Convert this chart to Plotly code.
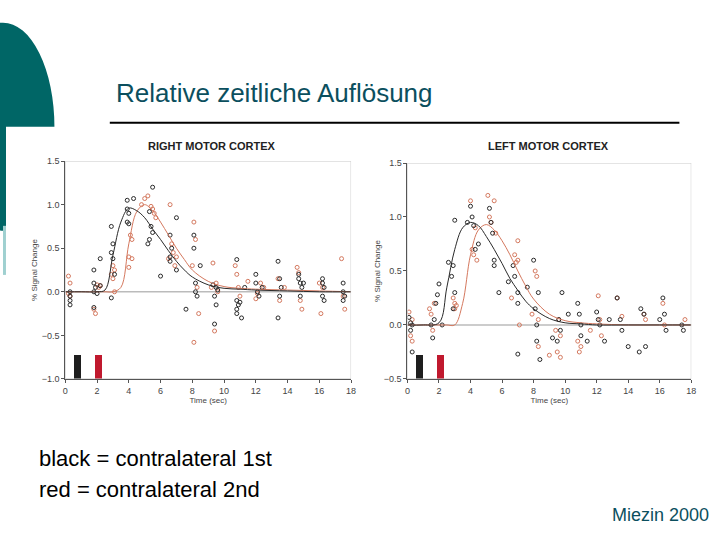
import plotly.graph_objects as go

W, H = 720, 540

# fitted curves
curve_t = [0, 1, 2, 2.5, 3, 3.5, 4, 4.5, 5, 5.5, 6, 6.5, 7, 7.5, 8, 9, 10, 11, 12, 14, 16, 18]
right_black_fit = [0, 0, 0, 0.02, 0.42, 0.8, 0.96, 0.93, 0.85, 0.72, 0.6, 0.47, 0.35, 0.25, 0.17, 0.08, 0.04, 0.03, 0.02, 0.01, 0, 0]
right_red_fit = [0, 0, 0, 0, 0, 0.05, 0.55, 0.92, 1.0, 0.93, 0.8, 0.65, 0.5, 0.37, 0.25, 0.12, 0.06, 0.04, 0.03, 0.02, 0.01, 0]
left_black_fit = [0, 0, 0.02, 0.35, 0.7, 0.9, 0.95, 0.92, 0.82, 0.7, 0.57, 0.43, 0.32, 0.22, 0.15, 0.06, 0.02, 0.01, 0, 0, 0, 0]
left_red_fit = [0, 0, 0, 0, 0, 0.2, 0.65, 0.88, 0.93, 0.88, 0.78, 0.65, 0.5, 0.36, 0.24, 0.1, 0.04, 0.02, 0.01, 0, 0, 0]

# scatter samples (time, % signal change)
rb_t = [0.3, 0.3, 0.3, 0.3, 1.8, 1.8, 1.8, 1.8, 1.9, 2.0, 2.2, 2.2, 2.9, 2.9, 3.0, 3.0, 2.9, 3.1,
        3.9, 3.9, 3.9, 4.0, 4.0, 4.3, 5.2, 5.3, 5.3, 5.4, 5.5, 5.5, 6.0, 6.6, 6.6, 6.7, 6.6, 7.0, 7.0, 7.6,
        8.1, 8.1, 8.2, 8.2, 8.3, 8.5, 9.4, 9.4, 9.5, 9.5, 9.3, 9.6, 10.8, 10.8, 10.8, 10.9, 10.8, 11.0, 11.1, 11.3,
        12.0, 12.0, 12.1, 12.2, 12.4, 13.4, 13.5, 13.4, 13.5, 13.6, 14.7, 14.7, 14.8, 14.9, 14.8, 15.0,
        16.2, 16.3, 16.2, 16.3, 16.2, 17.5, 17.5, 17.6, 17.5]
rb_v = [-0.15, -0.1, 0.0, -0.05, 0.25, 0.1, -0.18, 0.0, 0.05, -0.02, 0.38, 0.07, 0.75, 0.45, 0.55, 0.38, -0.07, 0.2,
        1.05, 0.95, 0.8, 0.9, 0.78, 1.07, 0.55, 0.92, 0.6, 0.75, 0.68, 1.2, 0.18, 0.65, 0.4, 0.5, 0.35, 0.85, 0.25, -0.2,
        0.5, 0.65, 0.1, 0.0, -0.05, 0.3, -0.37, -0.05, 0.05, -0.15, 0.08, 0.02, 0.37, -0.1, -0.2, -0.15, -0.25, -0.12, -0.3, 0.05,
        0.2, 0.1, 0.0, -0.05, 0.05, 0.35, 0.15, -0.3, -0.05, 0.05, 0.2, 0.15, 0.1, 0.05, -0.05, 0.1,
        0.15, 0.05, -0.05, -0.1, 0.1, 0.1, 0.0, -0.05, -0.1]
rr_t = [0.2, 0.2, 0.3, 0.3, 1.8, 1.9, 2.0, 2.1, 2.2, 3.0, 3.0, 3.1, 3.1, 2.9, 4.0, 4.0, 4.1, 4.2, 4.2,
        4.8, 5.0, 5.2, 5.4, 5.5, 5.6, 5.7, 6.6, 6.7, 6.8, 6.9, 6.5, 7.0, 8.1, 8.2, 8.0, 8.3, 8.4, 8.1,
        9.3, 9.4, 9.5, 9.6, 9.2, 10.7, 10.8, 10.9, 11.0, 11.5, 12.0, 12.3, 12.5, 12.1, 13.4, 13.5, 13.8,
        14.6, 14.7, 14.8, 14.9, 16.0, 16.1, 16.2, 17.4, 17.5, 17.6]
rr_v = [0.18, -0.02, 0.1, -0.05, -0.2, -0.25, 0.08, 0.05, 0.07, 0.3, 0.15, 0.25, 0.0, 0.2, 0.4, 0.28, 0.65, 0.6, 0.38,
        1.0, 1.07, 1.1, 0.98, 0.95, 0.9, 0.85, 1.0, 0.55, 0.45, 0.3, 0.38, 0.4, 0.8, 0.6, 0.3, 0.05, -0.25, -0.58,
        0.33, -0.45, 0.1, 0.0, 0.05, 0.3, 0.2, 0.05, -0.05, 0.12, -0.08, 0.1, 0.05, -0.02, 0.15, -0.1, 0.05,
        0.28, 0.22, -0.1, -0.2, 0.1, -0.25, 0.05, 0.38, -0.05, -0.2]
lb_t = [0.1, 0.2, 0.2, 0.3, 0.3, 1.5, 1.6, 1.7, 1.8, 1.9, 2.0, 2.2, 2.6, 2.8, 2.9, 3.0, 3.0, 2.9,
        3.8, 4.0, 4.1, 4.2, 4.3, 4.5, 5.2, 5.3, 5.4, 5.5, 5.5, 5.8, 6.4, 6.7, 6.8, 7.0, 7.0, 7.0, 7.6,
        8.0, 8.1, 8.2, 8.2, 8.3, 8.4, 9.2, 9.6, 9.7, 9.5, 9.8, 10.2, 10.8, 10.9, 11.0, 11.0, 11.4,
        12.0, 12.1, 12.2, 12.5, 12.8, 13.3, 13.5, 13.6, 14.0, 14.7, 14.8, 15.0, 15.1, 16.0, 16.2, 16.3, 16.4, 17.4, 17.5]
lb_v = [0.07, -0.05, 0.02, -0.25, 0.0, 0.0, -0.12, 0.05, 0.2, 0.28, 0.38, 0.0, 0.58, 0.45, 0.55, 0.97, 0.3, 0.15,
        0.95, 1.1, 1.0, 0.92, 0.7, 0.75, 1.08, 0.95, 0.85, 0.6, 0.55, 0.3, 0.4, 0.55, 0.45, 0.3, 0.2, -0.27, 0.35,
        0.6, 0.15, 0.0, -0.15, 0.3, -0.32, -0.12, 0.05, -0.05, -0.15, 0.3, 0.1, 0.2, 0.1, 0.0, -0.1, -0.15,
        0.12, 0.05, 0.0, -0.15, 0.05, 0.25, 0.05, -0.05, -0.2, -0.25, 0.15, 0.1, -0.2, 0.05, 0.25, 0.1, -0.05, 0.0, -0.05]
lr_t = [0.1, 0.2, 0.3, 0.3, 1.4, 1.5, 1.6, 1.7, 2.9, 3.0, 3.0, 3.1, 4.0, 4.1, 4.2, 4.3, 4.4, 5.1, 5.2, 5.3, 5.5,
        5.6, 6.6, 6.8, 6.9, 7.0, 7.0, 7.1, 7.9, 8.1, 8.2, 8.3, 8.3, 9.0, 9.4, 9.5, 9.6, 9.7, 9.7,
        10.8, 10.9, 11.0, 11.6, 12.1, 12.2, 12.3, 13.3, 13.6, 15.0, 15.1, 16.2, 16.3, 17.6]
lr_v = [0.12, -0.1, -0.15, 0.05, 0.15, 0.1, -0.05, 0.2, 0.25, 0.2, 0.15, 0.18, 1.15, 0.7, 0.65, 0.9, 0.6, 1.2, 1.0, 0.95, 1.15,
        0.85, 0.25, 0.65, 0.58, 0.78, 0.6, 0.0, 0.1, 0.5, 0.45, -0.2, 0.05, -0.28, -0.05, -0.25, 0.05, -0.3, -0.1,
        -0.15, -0.25, -0.2, -0.05, 0.27, 0.05, -0.1, 0.25, 0.08, 0.1, 0.05, 0.2, 0.0, 0.05]

# stimulus markers
stim_x = [0.8, 2.1]
stim_color = ["#1e1e1e", "#c0192e"]
right_stim_base, right_stim_top = -1.0, -0.73
left_stim_base, left_stim_top = -0.5, -0.28

BLACK = "#2a2a2a"
RED = "#d4785e"
TEAL = "#006666"

fig = go.Figure()


def panel(xa, ya, bt, bv, rt, rv, bfit, rfit, sbase, stop):
    xr, yr = "x" if xa == 1 else "x%d" % xa, "y" if ya == 1 else "y%d" % ya
    fig.add_trace(go.Bar(x=stim_x, y=[stop - sbase] * 2, base=sbase, width=0.45,
                         marker=dict(color=stim_color, line=dict(width=0)), xaxis=xr, yaxis=yr))
    fig.add_trace(go.Scatter(x=[0, 18], y=[0, 0], mode="lines", line=dict(color="#bbbbbb", width=1.5),
                             xaxis=xr, yaxis=yr))
    fig.add_trace(go.Scatter(x=rt, y=rv, mode="markers", xaxis=xr, yaxis=yr,
                             marker=dict(symbol="circle-open", size=4, color=RED, line=dict(width=1))))
    fig.add_trace(go.Scatter(x=bt, y=bv, mode="markers", xaxis=xr, yaxis=yr,
                             marker=dict(symbol="circle-open", size=4, color=BLACK, line=dict(width=1))))
    fig.add_trace(go.Scatter(x=curve_t, y=rfit, mode="lines", line=dict(color=RED, width=1, shape="spline"),
                             xaxis=xr, yaxis=yr))
    fig.add_trace(go.Scatter(x=curve_t, y=bfit, mode="lines", line=dict(color=BLACK, width=1, shape="spline"),
                             xaxis=xr, yaxis=yr))


panel(1, 1, rb_t, rb_v, rr_t, rr_v, right_black_fit, right_red_fit, right_stim_base, right_stim_top)
panel(2, 2, lb_t, lb_v, lr_t, lr_v, left_black_fit, left_red_fit, left_stim_base, left_stim_top)

ax = dict(showgrid=False, zeroline=False, showline=True, linecolor="#555", linewidth=1, mirror=False,
          ticks="outside", ticklen=3, tickcolor="#555", tickfont=dict(size=9, color="#444", family="Liberation Sans"))
tf = dict(size=8, color="#444", family="Liberation Sans")
fig.update_layout(
    width=W, height=H, margin=dict(l=0, r=0, t=0, b=0), showlegend=False,
    plot_bgcolor="white", paper_bgcolor="white", bargap=0,
    xaxis=dict(ax, domain=[63 / W, 352 / W], range=[0, 18], dtick=2, anchor="y",
               title=dict(text="Time (sec)", font=tf, standoff=2)),
    yaxis=dict(ax, domain=[1 - 381 / H, 1 - 159 / H], range=[-1.0, 1.5], dtick=0.5, tickformat=".1f", anchor="x",
               title=dict(text="% Signal Change", font=tf, standoff=2)),
    xaxis2=dict(ax, domain=[409 / W, 696 / W], range=[0, 18], dtick=2, anchor="y2",
                title=dict(text="Time (sec)", font=tf, standoff=2)),
    yaxis2=dict(ax, domain=[1 - 381 / H, 1 - 161 / H], range=[-0.5, 1.5], dtick=0.5, tickformat=".1f", anchor="x2",
                title=dict(text="% Signal Change", font=tf, standoff=2)),
)

# slide decoration
fig.add_shape(type="circle", xref="paper", yref="paper", x0=-52 / W, x1=52 / W, y0=1 - 230 / H, y1=1 - 18 / H,
              fillcolor=TEAL, line_width=0, layer="below")
fig.add_shape(type="rect", xref="paper", yref="paper", x0=3 / W, x1=60 / W, y0=1 - 280 / H, y1=1 - 124 / H,
              fillcolor="white", line_width=0, layer="below")
fig.add_shape(type="rect", xref="paper", yref="paper", x0=0, x1=3 / W, y0=1 - 225 / H, y1=1 - 124 / H,
              fillcolor=TEAL, line_width=0, layer="below")
fig.add_shape(type="rect", xref="paper", yref="paper", x0=0, x1=3 / W, y0=1 - 275 / H, y1=1 - 225 / H,
              fillcolor="#9fd0d0", line_width=0, layer="below")
fig.add_shape(type="line", xref="paper", yref="paper", x0=108 / W, x1=684 / W, y0=1 - 120 / H, y1=1 - 120 / H,
              line=dict(color="black", width=2))
fig.add_shape(type="rect", xref="x", yref="y", x0=0, x1=18, y0=-1.0, y1=1.5, line=dict(color="#ccc", width=1))
fig.add_shape(type="rect", xref="x2", yref="y2", x0=0, x1=18, y0=-0.5, y1=1.5, line=dict(color="#ccc", width=1))

sans = "Liberation Sans"
notes = [
    dict(text="Relative zeitliche Auflösung", x=112, y=90, size=26, color="#0b4f5e", anchor="left"),
    dict(text="<b>RIGHT MOTOR CORTEX</b>", x=211, y=144, size=11, color="#222", anchor="center"),
    dict(text="<b>LEFT MOTOR CORTEX</b>", x=552, y=144, size=11, color="#222", anchor="center"),
    dict(text="black = contralateral 1st", x=34, y=462, size=22, color="black", anchor="left"),
    dict(text="red = contralateral 2nd", x=34, y=494, size=22, color="black", anchor="left"),
    dict(text="Miezin 2000", x=716, y=520, size=18, color="#0b4f5e", anchor="right"),
]
for n in notes:
    fig.add_annotation(text=n["text"], xref="paper", yref="paper", x=n["x"] / W, y=1 - n["y"] / H,
                       xanchor=n["anchor"], yanchor="middle", showarrow=False,
                       font=dict(size=n["size"], color=n["color"], family=sans))

fig.write_html("out.html", config={"displayModeBar": False}, post_script="document.body.style.margin='0';")
